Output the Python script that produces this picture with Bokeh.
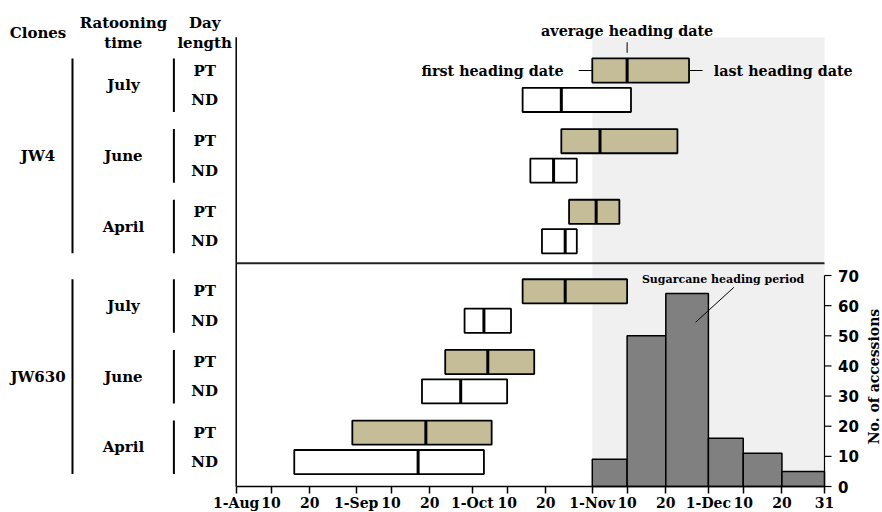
import math
import datetime as dt
from bokeh.plotting import figure
from bokeh.models import Range1d, FixedTicker
from bokeh.core.properties import value
from bokeh.embed import file_html
from bokeh.resources import INLINE

# ---------------- data ----------------
clones = ["JW4"] * 6 + ["JW630"] * 6
ratooning_time = ["July", "July", "June", "June", "April", "April"] * 2
day_length = ["PT", "ND"] * 6
first_heading = ["11-01", "10-14", "10-24", "10-16", "10-26", "10-19",
                 "10-14", "09-29", "09-24", "09-18", "08-31", "08-16"]
average_heading = ["11-10", "10-24", "11-03", "10-22", "11-02", "10-25",
                   "10-25", "10-04", "10-05", "09-28", "09-19", "09-17"]
last_heading = ["11-26", "11-11", "11-23", "10-28", "11-08", "10-28",
                "11-10", "10-11", "10-17", "10-10", "10-06", "10-04"]

hist_edges = ["11-01", "11-10", "11-20", "12-01", "12-10", "12-20", "12-31"]
hist_counts = [9, 50, 64, 16, 11, 5]

date_ticks = ["08-01", "08-10", "08-20", "09-01", "09-10", "09-20", "10-01", "10-10",
              "10-20", "11-01", "11-10", "11-20", "12-01", "12-10", "12-20", "12-31"]
date_tick_labels = ["1-Aug", "10", "20", "1-Sep", "10", "20", "1-Oct", "10",
                    "20", "1-Nov", "10", "20", "1-Dec", "10", "20", "31"]
count_ticks = [0, 10, 20, 30, 40, 50, 60, 70]
count_title = "No. of accessions"

# ---------------- helpers ----------------
ORIGIN = dt.date(2001, 8, 1)


def day(md):
    m, d = (int(v) for v in md.split("-"))
    return (dt.date(2001, m, d) - ORIGIN).days


# ---------------- layout ----------------
SUB_STEP = 2.4
GROUP_STEP = 7.5
BOX_H = 0.82
SERIF = value("DejaVu Serif")
SANS = value("DejaVu Sans")
FRAME_W, FRAME_H = 882, 512
PX_PER_DAY = 3.8704
PX_PER_ROW = 29.44
PX_PER_COUNT = 3.014
AXIS_PX = 486          # vertical pixel of the date axis

clone_order = list(dict.fromkeys(clones))
day_order = list(dict.fromkeys(day_length))
ys = []
for c, r, d in zip(clones, ratooning_time, day_length):
    ci = clone_order.index(c)
    rat_order = list(dict.fromkeys(rt for cc, rt in zip(clones, ratooning_time) if cc == c))
    ri = rat_order.index(r)
    di = day_order.index(d)
    ys.append(-(ci * GROUP_STEP + ri * SUB_STEP + di))

y_top_row = max(ys)
y_top = y_top_row + 70 / PX_PER_ROW
y_bottom = y_top - FRAME_H / PX_PER_ROW
axis_y = y_top - AXIS_PX / PX_PER_ROW
band_top = y_top_row + 1.13

x_start = day(date_ticks[0])
x_end = day(hist_edges[-1])
x_left = x_start - 60.9
x_right = x_left + FRAME_W / PX_PER_DAY

p = figure(frame_width=FRAME_W, frame_height=FRAME_H,
           x_range=Range1d(x_left, x_right),
           y_range=Range1d(y_bottom, y_top),
           y_axis_location=None,
           output_backend="svg", toolbar_location=None,
           min_border_left=0, min_border_top=0, min_border_right=0, min_border_bottom=0)
p.outline_line_color = None
p.grid.visible = False
p.background_fill_color = "white"
p.border_fill_color = "white"

# count scale for the histogram: 0 at the date axis
p.extra_y_ranges = {"count": Range1d(-(FRAME_H - AXIS_PX) / PX_PER_COUNT, AXIS_PX / PX_PER_COUNT)}

# heading-period shading
p.quad(left=day(hist_edges[0]), right=x_end, bottom=axis_y, top=band_top,
       fill_color="#f0f0f0", line_color=None)

# histogram
p.quad(left=[day(e) for e in hist_edges[:-1]], right=[day(e) for e in hist_edges[1:]],
       bottom=0, top=hist_counts, y_range_name="count",
       fill_color="#808080", line_color="black", line_width=1.5)

# left axis line and panel divider
p.segment(x0=x_start, x1=x_start, y0=axis_y, y1=band_top, line_color="black", line_width=1.5)
jw4_low = min(y for y, c in zip(ys, clones) if c == clone_order[0])
p.segment(x0=x_start, x1=x_end, y0=jw4_low - 0.75, y1=jw4_low - 0.75,
          line_color="#222222", line_width=2)

# boxes
fills = ["#c4bd97" if d == "PT" else "white" for d in day_length]
p.hbar(y=ys, left=[day(v) for v in first_heading], right=[day(v) for v in last_heading],
       height=BOX_H, fill_color=fills, line_color="black", line_width=1.8)
avg = [day(v) for v in average_heading]
p.segment(x0=avg, x1=avg, y0=[y - BOX_H / 2 for y in ys], y1=[y + BOX_H / 2 for y in ys],
          line_color="black", line_width=3)

# ---------------- left labels ----------------
CLONE_X, CLONE_BAR_X, RAT_X, RAT_BAR_X, DAY_X = -51.2, -42.3, -29.15, -16.1, -8.16
txt = dict(text_font=SERIF, text_font_style="bold", text_font_size="15px",
           text_align="center", text_baseline="middle", text_color="black")

p.text(x=[DAY_X] * len(ys), y=ys, text=day_length, **txt)

rat_x, rat_y, rat_t, rb_y0, rb_y1 = [], [], [], [], []
for c in clone_order:
    for r in dict.fromkeys(rt for cc, rt in zip(clones, ratooning_time) if cc == c):
        yy = [y for y, cc, rt in zip(ys, clones, ratooning_time) if cc == c and rt == r]
        rat_x.append(RAT_X); rat_y.append(sum(yy) / len(yy)); rat_t.append(r)
        rb_y0.append(min(yy) - BOX_H / 2); rb_y1.append(max(yy) + BOX_H / 2)
p.text(x=rat_x, y=rat_y, text=rat_t, **txt)
p.segment(x0=RAT_BAR_X, x1=RAT_BAR_X, y0=rb_y0, y1=rb_y1, line_color="black", line_width=2)

cl_y, cb_y0, cb_y1 = [], [], []
for c in clone_order:
    yy = [y for y, cc in zip(ys, clones) if cc == c]
    cl_y.append((min(yy) + max(yy)) / 2)
    cb_y0.append(min(yy) - BOX_H / 2); cb_y1.append(max(yy) + BOX_H / 2)
p.text(x=[CLONE_X] * len(clone_order), y=cl_y, text=clone_order, **txt)
p.segment(x0=CLONE_BAR_X, x1=CLONE_BAR_X, y0=cb_y0, y1=cb_y1, line_color="black", line_width=2)

# headers
p.text(x=[CLONE_X, RAT_X, RAT_X, DAY_X, DAY_X],
       y=[y_top_row + 1.29, y_top_row + 1.63, y_top_row + 0.95, y_top_row + 1.63, y_top_row + 0.95],
       text=["Clones", "Ratooning", "time", "Day", "length"], **txt)

# ---------------- explanatory annotations (first row) ----------------
ann = dict(txt); ann["text_font_size"] = "14.3px"
f0, a0, l0, y0 = day(first_heading[0]), avg[0], day(last_heading[0]), ys[0]
p.segment(x0=a0, x1=a0, y0=y0 + 0.60, y1=y0 + 0.96, line_color="black", line_width=1)
p.text(x=[a0], y=[y0 + 1.325], text=["average heading date"], **ann)
p.segment(x0=[f0 - 3.5, l0], x1=[f0, l0 + 3.5], y0=y0, y1=y0, line_color="black", line_width=1)
t_first = dict(ann); t_first["text_align"] = "right"
p.text(x=[f0 - 7.4], y=[y0], text=["first heading date"], **t_first)
t_last = dict(ann); t_last["text_align"] = "left"
p.text(x=[l0 + 6.4], y=[y0], text=["last heading date"], **t_last)

# histogram annotation
p.segment(x0=118.7, x1=128.6, y0=54.5, y1=66.1, y_range_name="count",
          line_color="black", line_width=1)
p.text(x=[125.8], y=[68.7], y_range_name="count", text=["Sugarcane heading period"],
       text_font=SERIF, text_font_style="bold", text_font_size="11px",
       text_align="center", text_baseline="middle", text_color="black")

# ---------------- count scale drawn at the end of the date range ----------------
TICK_LEN = 7 / PX_PER_DAY
p.segment(x0=x_end, x1=x_end, y0=count_ticks[0], y1=count_ticks[-1], y_range_name="count",
          line_color="black", line_width=1.2)
p.segment(x0=x_end, x1=x_end + TICK_LEN, y0=count_ticks, y1=count_ticks, y_range_name="count",
          line_color="black", line_width=1.2)
p.text(x=[x_end + 13.5 / PX_PER_DAY] * len(count_ticks), y=count_ticks, y_range_name="count",
       text=[str(t) for t in count_ticks], text_font=SANS, text_font_style="bold",
       text_font_size="15px", text_align="left", text_baseline="middle", text_color="black")
p.text(x=[x_end + 49 / PX_PER_DAY], y=[(count_ticks[0] + count_ticks[-1]) / 2 + 1.5],
       y_range_name="count", text=[count_title], angle=math.pi / 2,
       text_font=SERIF, text_font_style="bold", text_font_size="14px",
       text_align="center", text_baseline="middle", text_color="black")

# ---------------- date axis ----------------
tick_days = [day(t) for t in date_ticks]
xa = p.xaxis[0]
xa.fixed_location = axis_y
xa.ticker = FixedTicker(ticks=tick_days)
xa.major_label_overrides = {d: lbl for d, lbl in zip(tick_days, date_tick_labels)}
xa.bounds = (x_start, x_end)
xa.axis_line_width = 1.5
xa.major_tick_line_width = 1.5
xa.major_tick_out = 7
xa.major_tick_in = 0
xa.minor_tick_out = 0
xa.minor_tick_in = 0
xa.major_label_standoff = 1
xa.major_label_text_font = "DejaVu Serif"
xa.major_label_text_font_style = "bold"
xa.major_label_text_font_size = "14px"
xa.major_label_text_color = "black"

open("out.html", "w").write(file_html(p, INLINE))
